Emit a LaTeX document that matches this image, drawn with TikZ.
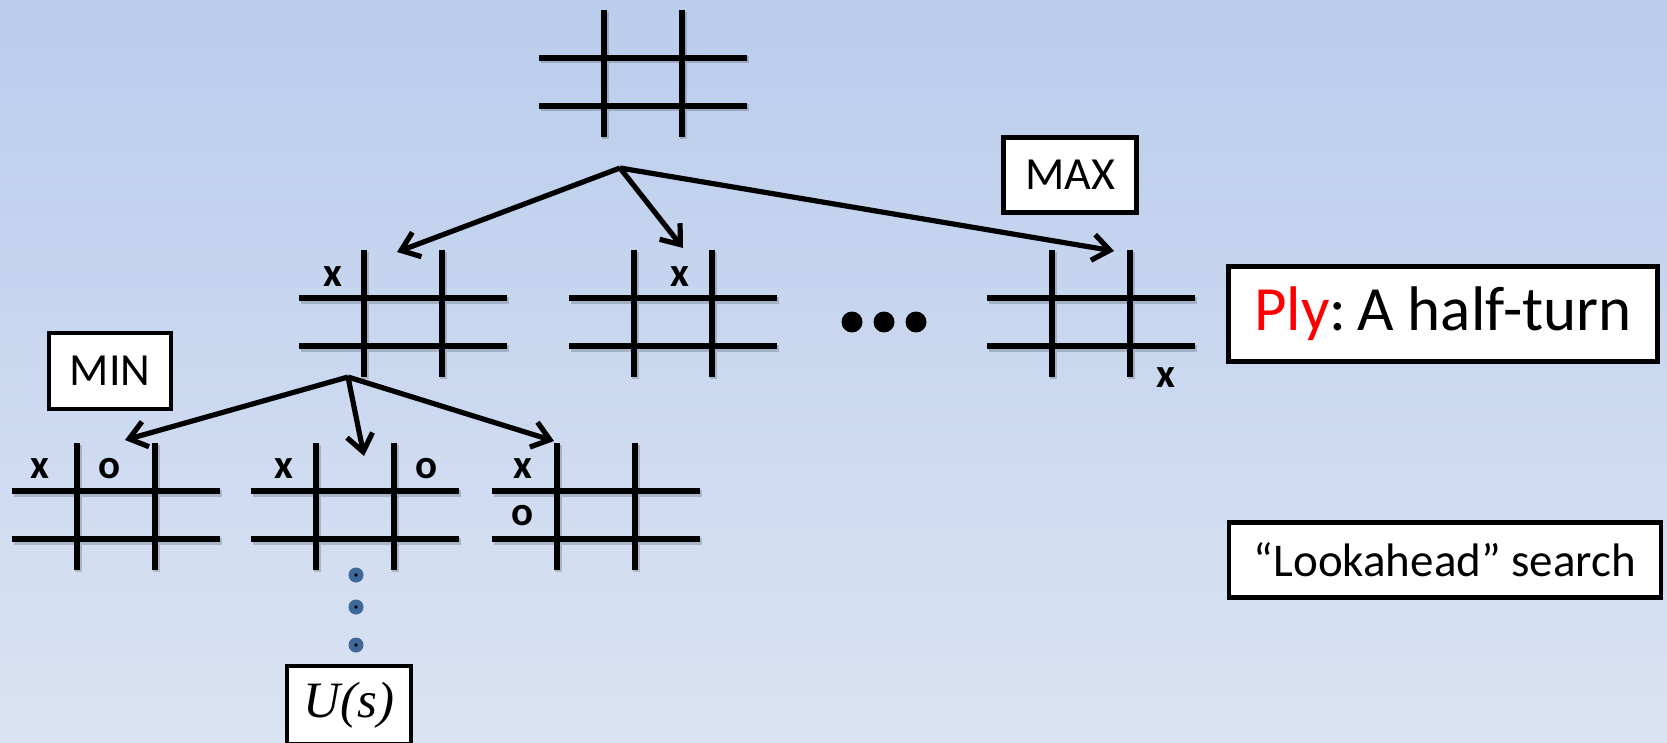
\documentclass[tikz,border=0pt]{standalone}
\usepackage{fontspec}
\setmainfont{Carlito}
\newfontfamily\serifit{Liberation Serif}
\usepackage{tikz}
\usepackage{xcolor}
\usetikzlibrary{arrows.meta,positioning,calc}
\definecolor{bgtop}{RGB}{186,205,236}
\definecolor{bgbot}{RGB}{218,227,243}
\definecolor{dotblue}{HTML}{3F6797}
\definecolor{plyred}{HTML}{FF0000}

\tikzset{
  softshadow/.style={preaction={draw=black,draw opacity=.18,line width=7pt,
                     transform canvas={shift={(1.5pt,-2pt)}}}},
  gridline/.style={draw=black,line width=5.6pt,softshadow},
  move/.style={arrows={-Straight Barb[length=17pt,width=26pt]},line width=5.2pt},
  tag/.style={draw=black,line width=4.8pt,fill=white,inner sep=0pt},
  cellmark/.style={inner sep=0pt,font=\bfseries\fontsize{41}{41}\selectfont},
}
% one tic-tac-toe grid, centre of the middle cell at (#2,#3)
\newcommand{\tttboard}[3]{%
  \begin{scope}[shift={(#2,#3)}]
    \coordinate (#1) at (0,0);
    \draw[gridline] (-104,-24) -- (104,-24) (-104,24) -- (104,24)
                    (-39,-72) -- (-39,55) (39,-72) -- (39,55);
  \end{scope}}

\begin{document}
\begin{tikzpicture}[x=1pt,y=-1pt]
 \useasboundingbox (0,0) rectangle (1667,743);
 \shade[top color=bgtop,bottom color=bgbot] (0,0) rectangle (1667,743);

 % game tree: root, first ply, second ply
 \tttboard{root}{643}{82}
 \tttboard{bA}{403}{322}
 \tttboard{bB}{673}{322}
 \tttboard{bC}{1091}{322}
 \tttboard{bD}{116}{515}
 \tttboard{bE}{355}{515}
 \tttboard{bF}{596}{515}

 \node[cellmark] (xA) at (333,277) {x};
 \node[cellmark] (xB) at (680,277) {x};
 \node[cellmark] (xC) at (1166,378) {x};
 \node[cellmark] (xD) at (40,469) {x};
 \node[cellmark] (oD) at (110,469) {o};
 \node[cellmark] (xE) at (284,469) {x};
 \node[cellmark] (oE) at (427,469) {o};
 \node[cellmark] (xF) at (523,469) {x};
 \node[cellmark] (oF) at (523,516) {o};

 \coordinate (hub0) at (620,168);
 \coordinate (hub1) at (348,377);
 \coordinate (inA) at (397,252);
 \coordinate (inB) at (683,248);
 \coordinate (inC) at (1114,251);
 \coordinate (inD) at (125,440);
 \coordinate (inE) at (364,456);
 \coordinate (inF) at (554,441);

 \foreach \t in {inA,inB,inC} \draw[move] (hub0) -- (\t);
 \foreach \t in {inD,inE,inF} \draw[move] (hub1) -- (\t);

 % more children
 \foreach \i/\x in {1/852,2/884,3/916}
   \fill (\x,322) circle (10.5);
 \foreach \i/\y in {1/575,2/607,3/645}{
   \fill[dotblue] (356,\y) circle (7.5);
   \fill (356,\y) circle (1.8);
 }

 \node[tag,minimum width=133pt,minimum height=75pt,
       font=\fontsize{46}{46}\selectfont] (maxtag) at (1070,175) {MAX};
 \node[tag,minimum width=122pt,minimum height=76pt,
       font=\fontsize{46}{46}\selectfont] (mintag) at (110,371) {MIN};
 \node[tag,minimum width=429pt,minimum height=95pt,
       font=\fontsize{63}{63}\selectfont] (ply) at (1443,314)
   {\textcolor{plyred}{Ply}:\,A half-turn};
 \node[tag,minimum width=432pt,minimum height=75pt,
       font=\fontsize{47}{47}\selectfont] (look) at (1445,560)
   {“Lookahead” search};
 \node[tag,minimum width=124pt,minimum height=78pt,
       font=\serifit\itshape\fontsize{51}{51}\selectfont] (util) at (349,705) {U(s)};
\end{tikzpicture}
\end{document}
